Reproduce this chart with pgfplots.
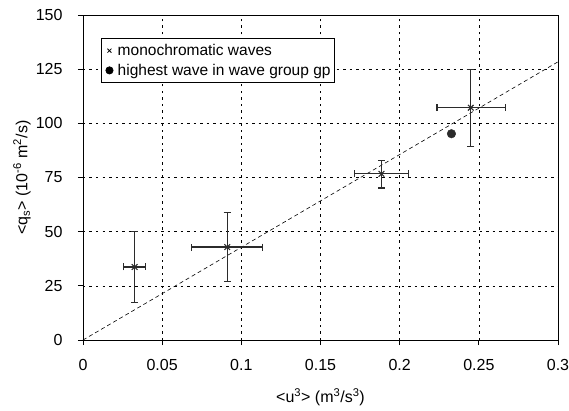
\documentclass[border=0pt]{standalone}
\usepackage{fontspec}
\setmainfont{Liberation Sans}
\usepackage{pgfplots}
\pgfplotsset{compat=1.18}
\definecolor{mk}{HTML}{2B2B2B}
\pgfplotsset{onemark/.style={legend image code/.code={\path[draw=none,fill=none] (0,0) -- (0.44cm,0cm); \draw[##1] plot[only marks] coordinates {(0.22cm,0cm)};}}}
\begin{document}
\begin{tikzpicture}
\begin{axis}[name=ax, scale only axis, width=475pt, height=325pt,
  xmin=0, xmax=0.3, ymin=0, ymax=150,
  xtick={0,0.05,0.1,0.15,0.2,0.25,0.3},
  xticklabels={0,0.05,0.1,0.15,0.2,0.25,0.3},
  ytick={0,25,50,75,100,125,150},
  tick pos=left, tick align=outside, major tick length=5pt,
  tick style={black, line width=0.8pt},
  axis line style={black, line width=0.9pt},
  grid=major, grid style={black, line width=0.6pt, dash pattern=on 2.5pt off 4pt},
  /pgf/number format/assume math mode=true,
  tick label style={font=\fontsize{16}{18}\selectfont},
  xticklabel style={anchor=center, yshift=-20pt},
  yticklabel style={anchor=east, xshift=-12pt},
  every axis x label/.style={at={(axis description cs:0.5,0)}, yshift=-57pt, anchor=center, font=\fontsize{16}{18}\selectfont},
  every axis y label/.style={at={(axis description cs:0,0.5)}, xshift=-61pt, rotate=90, anchor=center, font=\fontsize{16}{18}\selectfont},
  xlabel={<u\textsuperscript{3}> (m\textsuperscript{3}/s\textsuperscript{3})},
  ylabel={<q\textsubscript{s}> (10\textsuperscript{-6} m\textsuperscript{2}/s)},
  legend style={at={(0.0375,0.928)}, anchor=north west, draw=black, line width=0.8pt,
    font=\fontsize{15.5}{18}\selectfont, inner xsep=2pt, inner ysep=3.5pt, row sep=3pt},
  legend cell align=left,
]
\addlegendimage{only marks, mark=x, mark size=2.8pt, black, mark options={line width=0.8pt}, onemark}
\addlegendentry{monochromatic waves}
\addlegendimage{only marks, mark=*, mark size=3.6pt, black, onemark}
\addlegendentry{highest wave in wave group gp}

\addplot[black, line width=0.6pt, dash pattern=on 4pt off 3pt, forget plot] coordinates {(0,0) (0.3,128.4)};

\addplot[only marks, mark=x, mark size=4pt, mk, mark options={line width=1.1pt}, forget plot,
  error bars/.cd, x dir=both, x explicit, y dir=both, y explicit,
  error bar style={line width=1.3pt, mk},
  error mark options={rotate=90, line width=1.3pt, mk, mark size=3.5pt}]
coordinates {
(0.0326,33.7) += (0.0069,16.5) -= (0.0069,16.4)
(0.0911,42.9) += (0.0223,15.8) -= (0.0225,15.8)
(0.1885,76.7) += (0.0170,6.3) -= (0.0170,6.6)
(0.2449,107.2) += (0.0218,17.8) -= (0.0214,17.8)
};
\addplot[only marks, mark=*, mark size=4.3pt, mk, forget plot] coordinates {(0.2327,95.2)};
\end{axis}
\pgfresetboundingbox
\path[use as bounding box] ([xshift=-83pt,yshift=-70pt]ax.south west) rectangle ([xshift=11pt,yshift=15pt]ax.north east);
\end{tikzpicture}
\end{document}
